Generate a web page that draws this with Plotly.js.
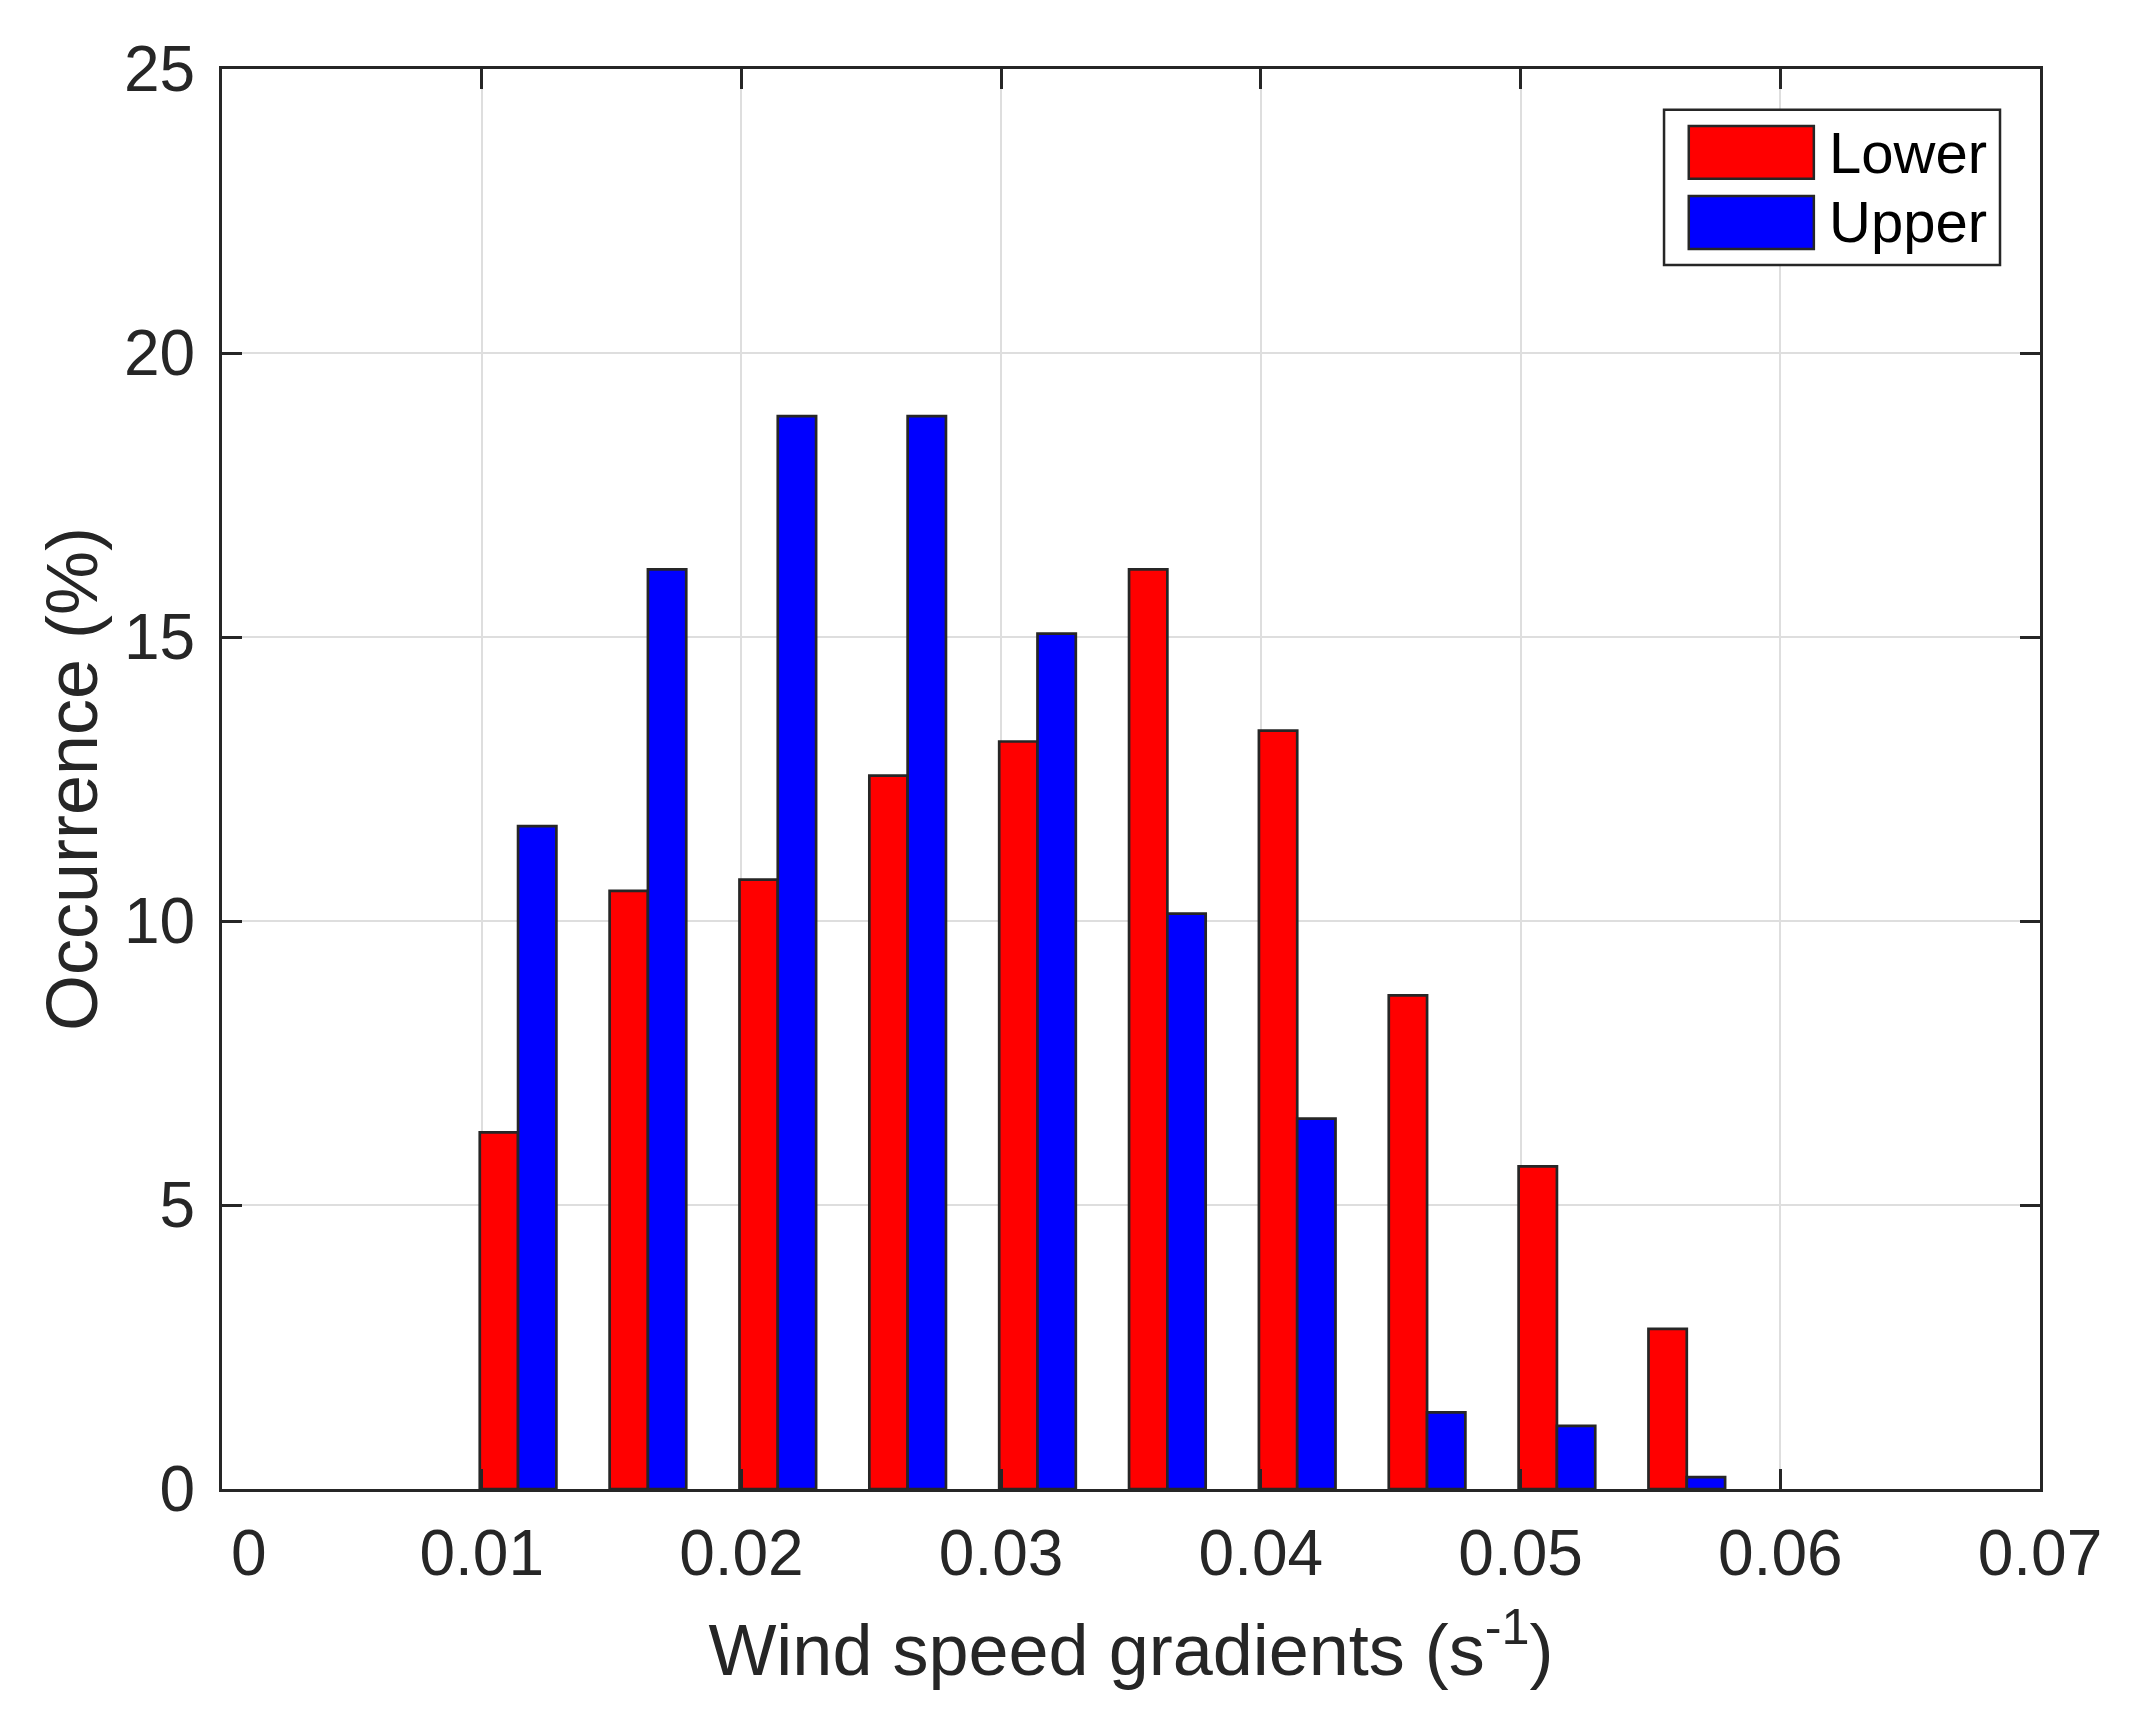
<!DOCTYPE html>
<html>
<head>
<meta charset="utf-8">
<script src="https://cdn.plot.ly/plotly-3.0.1.min.js"></script>
<style>
  html, body { margin: 0; padding: 0; background: #fff; }
</style>
</head>
<body>
<div id="myDiv" style="width:2144px;height:1723px;"></div>
<script>
// bin centres of the gradient histogram (s^-1)
var gradients = [0.0114, 0.0164, 0.0214, 0.0264, 0.0314, 0.0364, 0.0414, 0.0464, 0.0514, 0.0564];
// occurrence (%) per bin
var lowerPct = [6.28, 10.53, 10.73, 12.56, 13.16, 16.19, 13.35, 8.69, 5.68, 2.82];
var upperPct = [11.67, 16.19, 18.89, 18.89, 15.06, 10.13, 6.52, 1.35, 1.11, 0.21];
var seriesNames = ['Lower', 'Upper'];
var seriesColors = ['#ff0000', '#0000ff'];
// x tick labels (the "0" sits a little right of its tick in the original)
var xTickVals = [0, 0.01, 0.02, 0.03, 0.04, 0.05, 0.06, 0.07];
var xTickText = ['\u00a0\u00a0\u00a00', '0.01', '0.02', '0.03', '0.04', '0.05', '0.06', '0.07'];

var axisColor = '#262626';
var font = 'Arial, "Liberation Sans", Helvetica, sans-serif';

var trace1 = {
  x: gradients,
  y: lowerPct,
  name: seriesNames[0],
  type: 'bar',
  marker: {color: seriesColors[0], line: {color: axisColor, width: 2.7}},
  showlegend: false
};

var trace2 = {
  x: gradients,
  y: upperPct,
  name: seriesNames[1],
  type: 'bar',
  marker: {color: seriesColors[1], line: {color: axisColor, width: 2.7}},
  showlegend: false
};

var axisStyle = {
  showline: true,
  linecolor: axisColor,
  linewidth: 3,
  mirror: 'ticks',
  ticks: 'inside',
  ticklen: 20,
  tickwidth: 3,
  tickcolor: axisColor,
  showgrid: true,
  gridcolor: '#dedede',
  gridwidth: 2,
  zeroline: false,
  tickfont: {family: font, size: 64, color: axisColor}
};

var xaxis = Object.assign({}, axisStyle, {
  range: [0, 0.07],
  tickmode: 'array',
  tickvals: xTickVals,
  ticktext: xTickText,
  ticklabelstandoff: 6,
  title: {text: 'Wind speed gradients (s<sup>-1</sup>)', font: {family: font, size: 72, color: axisColor}, standoff: 37}
});

var yaxis = Object.assign({}, axisStyle, {
  range: [0, 25],
  dtick: 5,
  tick0: 0,
  ticklabelstandoff: 11,
  title: {text: 'Occurrence (%)', font: {family: font, size: 72, color: axisColor}, standoff: 3}
});

// legend drawn by hand so the swatches can be as large as in the figure
var legendShapes = [
  {type: 'rect', xref: 'paper', yref: 'paper', x0: 0.7932, x1: 0.978, y0: 0.862, y1: 0.9713,
   fillcolor: '#ffffff', line: {color: axisColor, width: 2.5}},
  {type: 'rect', xref: 'paper', yref: 'paper', x0: 0.8068, x1: 0.8756, y0: 0.9227, y1: 0.9599,
   fillcolor: seriesColors[0], line: {color: axisColor, width: 2.5}},
  {type: 'rect', xref: 'paper', yref: 'paper', x0: 0.8068, x1: 0.8756, y0: 0.8732, y1: 0.9106,
   fillcolor: seriesColors[1], line: {color: axisColor, width: 2.5}}
];
var legendLabels = [
  {xref: 'paper', yref: 'paper', x: 0.8836, y: 0.9409, xanchor: 'left', yanchor: 'middle',
   text: seriesNames[0], showarrow: false, borderpad: 0, font: {family: font, size: 58, color: '#000000'}},
  {xref: 'paper', yref: 'paper', x: 0.8836, y: 0.8923, xanchor: 'left', yanchor: 'middle',
   text: seriesNames[1], showarrow: false, borderpad: 0, font: {family: font, size: 58, color: '#000000'}}
];

var layout = {
  width: 2144,
  height: 1723,
  margin: {l: 222, r: 104, t: 69, b: 234, autoexpand: false},
  paper_bgcolor: '#ffffff',
  plot_bgcolor: '#ffffff',
  barmode: 'group',
  bargap: 0.41,
  bargroupgap: 0,
  font: {family: font, color: axisColor},
  xaxis: xaxis,
  yaxis: yaxis,
  shapes: legendShapes,
  annotations: legendLabels,
  showlegend: false
};

Plotly.newPlot('myDiv', [trace1, trace2], layout, {staticPlot: true});
</script>
</body>
</html>
